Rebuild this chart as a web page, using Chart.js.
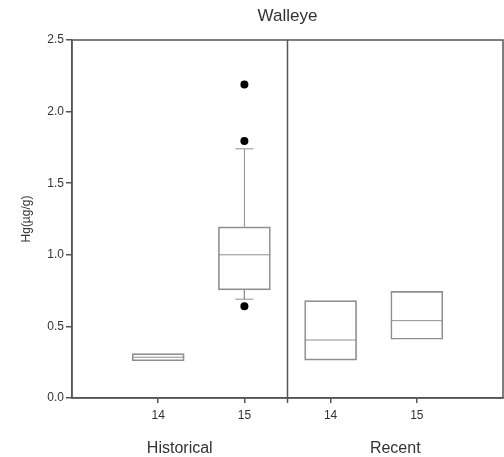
<!DOCTYPE html>
<html>
<head>
<meta charset="utf-8">
<script src="https://cdn.jsdelivr.net/npm/chart.js@4/dist/chart.umd.min.js"></script>
<style>
  html, body { margin: 0; padding: 0; background: #fff; }
  #wrap { width: 504px; height: 457px; }
</style>
</head>
<body>
<div id="wrap"><canvas id="chart" width="504" height="457"></canvas></div>
<script>
// Datos
const chartTitle = 'Walleye';
const yTitle = 'Hg(µg/g)';
const groups = ['Historical', 'Recent'];
const groupCenters = [1.25, 3.75];
const categories = ['14', '15', '14', '15'];
const positions = [1, 2, 3, 4];
const q1 = [0.26, 0.755, 0.265, 0.41];
const median = [0.285, 1.0, 0.405, 0.54];
const q3 = [0.31, 1.195, 0.68, 0.745];
const whiskerLow = [null, 0.69, null, null];
const whiskerHigh = [null, 1.74, null, null];
const outlierX = [2, 2, 2];
const outlierY = [2.19, 1.795, 0.64];
const yTicks = [0, 0.5, 1.0, 1.5, 2.0, 2.5];
const divider = 2.5;

const boxColor = '#8f8f8f';
const frameColor = '#555';
const textColor = '#333';
const font = 'Liberation Sans, Arial, sans-serif';

// Construir bigotes y topes
const whiskerLines = [];
const caps = [];
positions.forEach((p, i) => {
    if (whiskerHigh[i] !== null) {
        whiskerLines.push({ x: p, y: q3[i] }, { x: p, y: whiskerHigh[i] }, { x: p, y: null });
        caps.push({ x: p, y: whiskerHigh[i] });
    }
    if (whiskerLow[i] !== null) {
        whiskerLines.push({ x: p, y: q1[i] }, { x: p, y: whiskerLow[i] }, { x: p, y: null });
        caps.push({ x: p, y: whiskerLow[i] });
    }
});

// Marco, divisor y textos
const framePlugin = {
    id: 'framePlugin',
    afterDraw(chart) {
        const { ctx, chartArea, scales } = chart;
        ctx.save();
        ctx.strokeStyle = frameColor;
        ctx.lineWidth = 1.5;
        ctx.strokeRect(chartArea.left, chartArea.top, chartArea.right - chartArea.left, chartArea.bottom - chartArea.top);
        const dx = scales.x.getPixelForValue(divider);
        ctx.beginPath();
        ctx.moveTo(dx, chartArea.top);
        ctx.lineTo(dx, chartArea.bottom + 5);
        ctx.stroke();

        ctx.fillStyle = textColor;
        ctx.textAlign = 'center';
        ctx.textBaseline = 'alphabetic';
        ctx.font = '17px ' + font;
        ctx.fillText(chartTitle, (chartArea.left + chartArea.right) / 2, 21);
        ctx.font = '16px ' + font;
        groups.forEach((g, i) => {
            ctx.fillText(g, scales.x.getPixelForValue(groupCenters[i]), 453);
        });
        ctx.restore();
    }
};

const ctx = document.getElementById('chart').getContext('2d');
new Chart(ctx, {
    type: 'bar',
    data: {
        datasets: [
            {
                type: 'bar',
                data: positions.map((p, i) => ({ x: p, y: [q1[i], q3[i]] })),
                backgroundColor: 'rgba(0,0,0,0)',
                borderColor: boxColor,
                borderWidth: 1,
                borderSkipped: false,
                barThickness: 52,
                order: 3
            },
            {
                type: 'line',
                data: positions.map((p, i) => ({ x: p, y: median[i] })),
                showLine: false,
                pointStyle: 'line',
                pointRadius: 26,
                pointBorderColor: boxColor,
                pointBorderWidth: 1,
                order: 2
            },
            {
                type: 'line',
                data: whiskerLines,
                borderColor: boxColor,
                borderWidth: 1,
                pointRadius: 0,
                spanGaps: false,
                order: 2
            },
            {
                type: 'line',
                data: caps,
                showLine: false,
                pointStyle: 'line',
                pointRadius: 9,
                pointBorderColor: boxColor,
                pointBorderWidth: 1,
                order: 2
            },
            {
                type: 'line',
                data: outlierX.map((x, i) => ({ x: x, y: outlierY[i] })),
                showLine: false,
                pointStyle: 'circle',
                pointRadius: 4,
                pointBackgroundColor: '#000',
                pointBorderColor: '#000',
                pointBorderWidth: 0,
                order: 1
            }
        ]
    },
    options: {
        responsive: false,
        animation: false,
        devicePixelRatio: 1,
        layout: { autoPadding: false, padding: { top: 40, right: 1, left: 0, bottom: 0 } },
        plugins: {
            legend: { display: false },
            tooltip: { enabled: false },
            title: { display: false }
        },
        scales: {
            x: {
                type: 'linear',
                min: 0,
                max: 5,
                offset: false,
                afterBuildTicks: scale => {
                    scale.ticks = positions.map(v => ({ value: v }));
                },
                afterFit: scale => { scale.height = 59; },
                ticks: {
                    autoSkip: false,
                    maxRotation: 0,
                    padding: 5,
                    color: textColor,
                    font: { family: font, size: 12 },
                    callback: (value, index) => categories[index]
                },
                grid: {
                    offset: false,
                    drawOnChartArea: false,
                    tickLength: 5,
                    color: frameColor,
                    lineWidth: 1.5
                },
                border: { color: frameColor, width: 1.5 }
            },
            y: {
                min: 0,
                max: 2.5,
                afterBuildTicks: scale => {
                    scale.ticks = yTicks.map(v => ({ value: v }));
                },
                afterFit: scale => { scale.width = 72; },
                ticks: {
                    padding: 2,
                    color: textColor,
                    font: { family: font, size: 12 },
                    callback: value => value.toFixed(1)
                },
                grid: {
                    drawOnChartArea: false,
                    tickLength: 6,
                    color: frameColor,
                    lineWidth: 1.5
                },
                border: { color: frameColor, width: 1.5 },
                title: {
                    display: true,
                    text: yTitle,
                    color: textColor,
                    font: { family: font, size: 12 },
                    padding: { top: 19, bottom: 0 }
                }
            }
        }
    },
    plugins: [framePlugin]
});
</script>
</body>
</html>
